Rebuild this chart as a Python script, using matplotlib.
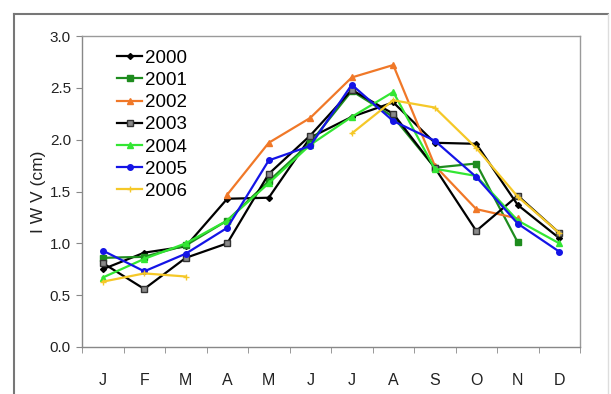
import numpy as np
import matplotlib
matplotlib.use("Agg")
import matplotlib.pyplot as plt
from matplotlib.lines import Line2D

months = ["J", "F", "M", "A", "M", "J", "J", "A", "S", "O", "N", "D"]
nan = np.nan
y2000 = [0.75, 0.91, 0.97, 1.43, 1.44, 2.02, 2.22, 2.36, 1.97, 1.96, 1.37, 1.05]
y2001 = [0.86, 0.87, 0.98, 1.22, 1.60, 1.97, 2.47, 2.22, 1.73, 1.77, 1.01, nan]
y2002 = [nan, nan, nan, 1.47, 1.97, 2.21, 2.60, 2.72, 1.75, 1.33, 1.24, nan]
y2003 = [0.81, 0.56, 0.86, 1.00, 1.67, 2.04, 2.48, 2.25, 1.73, 1.12, 1.46, 1.10]
y2004 = [0.67, 0.85, 1.00, 1.22, 1.58, 1.95, 2.22, 2.46, 1.72, 1.65, 1.22, 1.00]
y2005 = [0.93, 0.73, 0.90, 1.15, 1.80, 1.94, 2.53, 2.18, 1.99, 1.64, 1.19, 0.92]
y2006 = [0.63, 0.71, 0.68, nan, nan, nan, 2.06, 2.38, 2.31, 1.92, 1.45, 1.10]

series = [
    ("2000", y2000, "#000000", "D", "#000000", "#000000", 3),
    ("2001", y2001, "#1e8c1e", "s", "#1e8c1e", "#1e8c1e", 4),
    ("2002", y2002, "#f07828", "^", "#f07828", "#f07828", 4),
    ("2003", y2003, "#000000", "s", "#8a8a8a", "#333333", 4),
    ("2004", y2004, "#33e633", "^", "#33e633", "#33e633", 4),
    ("2005", y2005, "#1414e6", "o", "#1414e6", "#1414e6", 4),
    ("2006", y2006, "#f5c828", "+", "#f5c828", "#f5c828", 4),
]

plt.rcParams['font.family'] = ['Liberation Sans', 'DejaVu Sans']

fig = plt.figure(figsize=(6.11, 3.94), dpi=100)
ax = fig.add_axes([82/611, 1-347/394, (580-82)/611, (347-36)/394])

x = np.arange(1, 13)
for name, vals, col, mk, mfc, mec, ms in series:
    ax.plot(x, vals, color=col, lw=1.6, marker=mk, markersize=ms,
            markerfacecolor=mfc, markeredgecolor=mec, label=name)

ax.set_xlim(0.5, 12.5)
ax.set_ylim(0, 3.0)
ax.set_yticks(np.arange(0, 3.01, 0.5))
ax.set_yticklabels([f"{v:.1f}" for v in np.arange(0, 3.01, 0.5)], fontsize=11, color="#222222")
ax.set_xticks(x)
ax.set_xticklabels(months, fontsize=11.5, color="#222222")
ax.set_xticks(np.arange(0.5, 12.6, 1), minor=True)
ax.tick_params(axis='x', which='major', length=0, pad=19)
ax.tick_params(axis='x', which='minor', length=4, color="#888888", direction='out')
ax.tick_params(axis='y', length=4, color="#888888", direction='out', pad=4)
for s in ax.spines.values():
    s.set_color("#9a9a9a")
    s.set_linewidth(1.0)
ax.spines['left'].set_color("#888888")
ax.spines['bottom'].set_color("#888888")

ax.set_ylabel("I W V (cm)", fontsize=12.5, color="#222222", labelpad=3)

leg = ax.legend(loc="upper left", bbox_to_anchor=(0.056, 0.98), frameon=False,
                fontsize=13.5, handlelength=1.3, handletextpad=0.15, labelspacing=0.27,
                borderaxespad=0)

# outer chart frame
fig.add_artist(Line2D([14/611, 14/611], [0, 1-14/394], color="#777777", lw=1.5, transform=fig.transFigure))
fig.add_artist(Line2D([14/611, 608/611], [1-14/394, 1-14/394], color="#777777", lw=1.5, transform=fig.transFigure))
fig.add_artist(Line2D([608/611, 608/611], [0, 1-14/394], color="#dddddd", lw=1.0, transform=fig.transFigure))

fig.savefig("out.png", dpi=100)
